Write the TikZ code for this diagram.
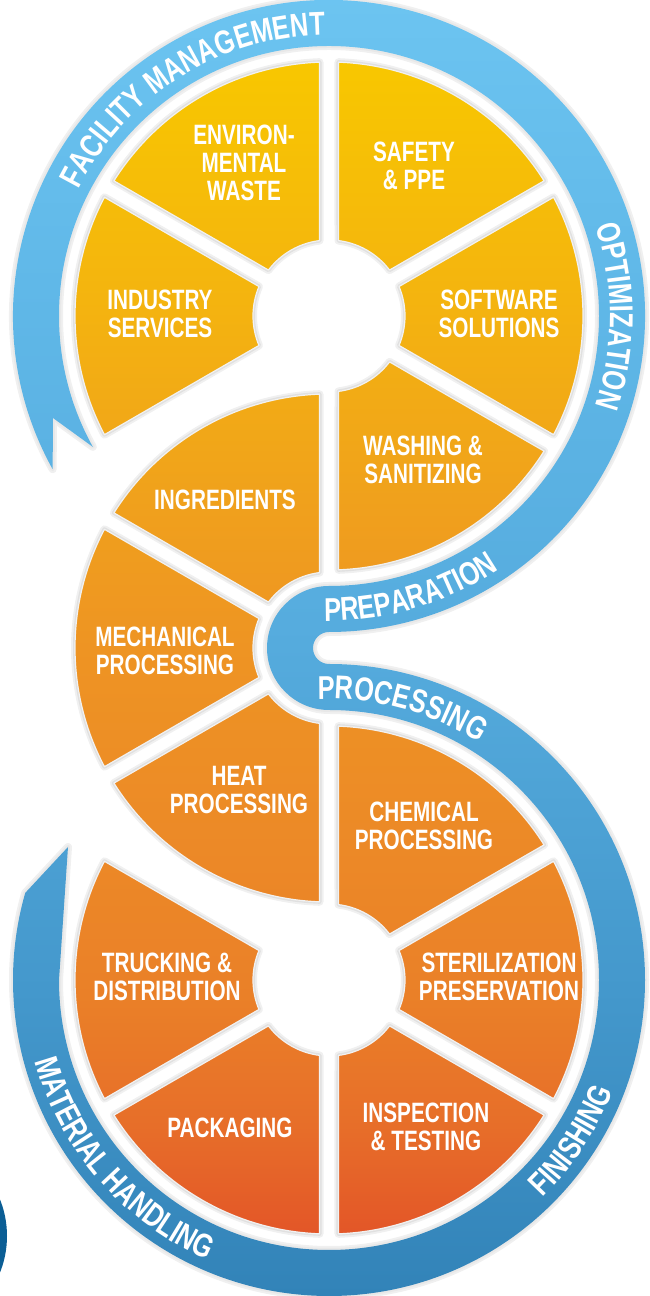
\documentclass[tikz,border=0pt]{standalone}
\usepackage{fontspec}
\usetikzlibrary{decorations.text}
\newfontfamily\labfont[FakeStretch=0.74]{Liberation Sans}
\newfontfamily\bandfam[FakeStretch=0.77]{Liberation Sans}
\newcommand\bandfont{\bandfam\bfseries\fontsize{33}{33}\selectfont}
\definecolor{o1}{HTML}{F8C700}
\definecolor{o2}{HTML}{F4B40F}
\definecolor{o3}{HTML}{F0A11C}
\definecolor{o4}{HTML}{EE9423}
\definecolor{o5}{HTML}{EC8927}
\definecolor{o6}{HTML}{EA8028}
\definecolor{o7}{HTML}{E76E29}
\definecolor{o8}{HTML}{E35628}
\definecolor{b1}{HTML}{6EC6F2}
\definecolor{b2}{HTML}{60B8E8}
\definecolor{b3}{HTML}{56ACDE}
\definecolor{b4}{HTML}{4498CC}
\definecolor{b5}{HTML}{3283B8}
\definecolor{logoblue}{HTML}{0B5E95}
\pgfdeclareverticalshading{orgrad}{100bp}{color(0bp)=(o8); color(25bp)=(o8); color(29.6bp)=(o7); color(35.1bp)=(o6); color(41.5bp)=(o5); color(50bp)=(o4); color(56.4bp)=(o3); color(64.9bp)=(o2); color(75bp)=(o1); color(100bp)=(o1)}
\pgfdeclareverticalshading{blgrad}{100bp}{color(0bp)=(b5); color(25bp)=(b5); color(36.4bp)=(b4); color(50bp)=(b3); color(62.7bp)=(b2); color(75bp)=(b1); color(100bp)=(b1)}
\begin{document}
\begin{tikzpicture}[x=1pt,y=1pt,
  lab/.style={text=white, font=\labfont\bfseries\fontsize{28}{28}\selectfont, align=center, inner sep=0pt},
  shadowA/.style={draw=black!6, line width=8pt, line join=round},
  shadowB/.style={draw=black!12, line width=4pt, line join=round},
  rim/.style={draw=black!5, line width=1.2pt, line join=round},
  bandtext/.style={decorate, decoration={text along path, text align=center, text color=white, text={|\bandfont|#1}}}]
\useasboundingbox (0,0) rectangle (650,1296);
\def\Ro{254}\def\Ri{76}\def\dO{2.14}\def\dI{7.18}
\def\sectors{329/980/90, 329/980/30, 329/980/150, 329/980/-30, 329/980/-90, 329/648/90, 329/648/150, 329/648/210, 329/316/30, 329/316/-30, 329/316/-90, 329/316/210, 329/316/150}
\def\bandpath{([shift={(329,980)}]209:316) arc[start angle=209, end angle=-90, radius=316]
  arc[start angle=90, end angle=270, radius=16]
  arc[start angle=90, end angle=-196, radius=316]
  -- (68,449) -- ([shift={(329,316)}]180:270)
  arc[start angle=-180, end angle=90, radius=270]
  arc[start angle=270, end angle=90, radius=62]
  arc[start angle=-90, end angle=209, radius=270]
  -- (53,878) -- cycle}
% logo fragment
\begin{scope}
\clip (0,0) rectangle (650,1296);
\fill[logoblue] (-91.6,60) circle (98.6);
\end{scope}
% shadows
\draw[shadowA] \bandpath;
\draw[shadowB, draw=black!9] \bandpath;
\foreach \cx/\cy/\a in \sectors {
  \draw[shadowA] ([shift={(\cx,\cy)}]{\a+\dO}:\Ro) arc[start angle={\a+\dO}, end angle={\a+60-\dO}, radius=\Ro] -- ([shift={(\cx,\cy)}]{\a+60-\dI}:\Ri) arc[start angle={\a+60-\dI}, end angle={\a+\dI}, radius=\Ri] -- cycle;
  \draw[shadowB] ([shift={(\cx,\cy)}]{\a+\dO}:\Ro) arc[start angle={\a+\dO}, end angle={\a+60-\dO}, radius=\Ro] -- ([shift={(\cx,\cy)}]{\a+60-\dI}:\Ri) arc[start angle={\a+60-\dI}, end angle={\a+\dI}, radius=\Ri] -- cycle;
}
% band
\shade[shading=blgrad] \bandpath;
% segments
\shade[shading=orgrad] \foreach \cx/\cy/\a in \sectors {([shift={(\cx,\cy)}]{\a+\dO}:\Ro) arc[start angle={\a+\dO}, end angle={\a+60-\dO}, radius=\Ro] -- ([shift={(\cx,\cy)}]{\a+60-\dI}:\Ri) arc[start angle={\a+60-\dI}, end angle={\a+\dI}, radius=\Ri] -- cycle};
\foreach \cx/\cy/\a in \sectors {
  \draw[rim] ([shift={(\cx,\cy)}]{\a+\dO}:\Ro) arc[start angle={\a+\dO}, end angle={\a+60-\dO}, radius=\Ro] -- ([shift={(\cx,\cy)}]{\a+60-\dI}:\Ri) arc[start angle={\a+60-\dI}, end angle={\a+\dI}, radius=\Ri] -- cycle;
}
% band texts
\path[bandtext={FACILITY MANAGEMENT}] ([shift={(329,980)}]162:281) arc[start angle=162, end angle=82, radius=281];
\path[bandtext={OPTIMIZATION}] ([shift={(329,980)}]45:281) arc[start angle=45, end angle=-45, radius=281];
\path[bandtext={PREPARATION}] ([shift={(329,980)}]-110:305) arc[start angle=-110, end angle=-37, radius=305];
\path[bandtext={PROCESSING}] ([shift={(329,316)}]115:281) arc[start angle=115, end angle=35, radius=281];
\path[bandtext={FINISHING}] ([shift={(329,316)}]-70:305) arc[start angle=-70, end angle=3, radius=305];
\path[bandtext={MATERIAL HANDLING}] ([shift={(329,316)}]180:305) arc[start angle=180, end angle=262, radius=305];
% labels
\node[lab] (env) at (244,1133) {ENVIRON-\\MENTAL\\WASTE};
\node[lab] (saf) at (414,1130) {SAFETY\\\& PPE};
\node[lab] (ind) at (160,982) {INDUSTRY\\SERVICES};
\node[lab] (sof) at (499,982) {SOFTWARE\\SOLUTIONS};
\node[lab] (was) at (423,836) {WASHING \&\\SANITIZING};
\node[lab] (ing) at (225,796) {INGREDIENTS};
\node[lab] (mec) at (165,645) {MECHANICAL\\PROCESSING};
\node[lab] (hea) at (239,506) {HEAT\\PROCESSING};
\node[lab] (che) at (424,470) {CHEMICAL\\PROCESSING};
\node[lab] (tru) at (167,319) {TRUCKING \&\\DISTRIBUTION};
\node[lab] (ste) at (499,319) {STERILIZATION\\PRESERVATION};
\node[lab] (pac) at (230,168) {PACKAGING};
\node[lab] (ins) at (426,169) {INSPECTION\\\& TESTING};
\end{tikzpicture}
\end{document}
